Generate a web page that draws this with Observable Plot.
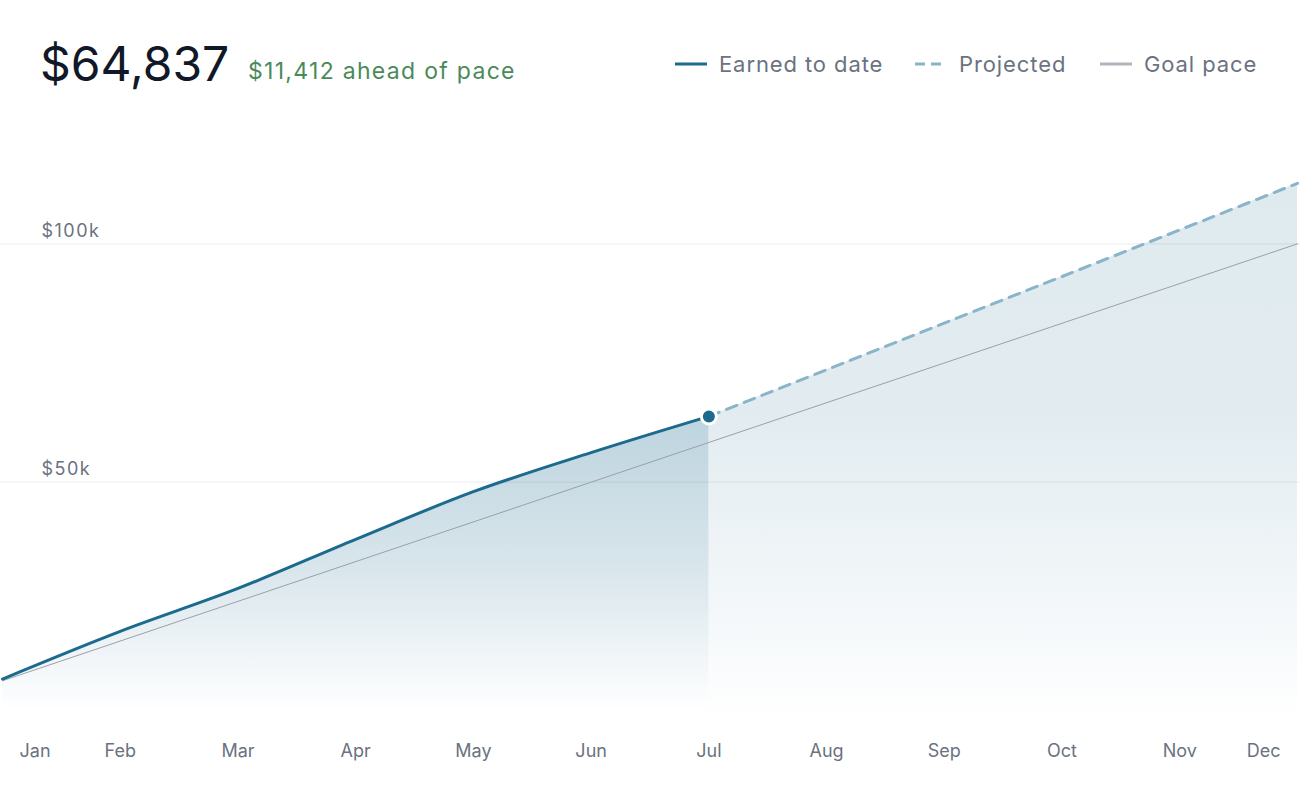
<!DOCTYPE html>
<html>
<head>
<meta charset="utf-8">
<script src="https://cdn.jsdelivr.net/npm/d3@7"></script>
<script src="https://cdn.jsdelivr.net/npm/@observablehq/plot@0.6"></script>
<style>
  html, body { margin: 0; padding: 0; background: #fff; }
  body { width: 1300px; height: 786px; overflow: hidden; font-family: Inter, "Noto Sans", sans-serif; }
  #header { position: relative; height: 110px; }
  .abs { position: absolute; line-height: 1; white-space: nowrap; }
  #total { left: 40px; top: 40px; font-size: 48px; color: #111827; font-weight: 400; letter-spacing: 0px; }
  #ahead { left: 248px; top: 60px; font-size: 23px; color: #4a8a5a; letter-spacing: 1.3px; }
  .leg { top: 53px; font-size: 22px; color: #6b7280; display: flex; align-items: center; letter-spacing: 0.9px; }
  .sw { display: inline-block; width: 32px; margin-right: 12px; }
  #chart svg { display: block; }
</style>
</head>
<body>
<div id="header">
  <div id="total" class="abs"></div>
  <div id="ahead" class="abs"></div>
  <div id="legend"></div>
</div>
<div id="chart"></div>
<script>
// ---- data ----
const months = ["Jan","Feb","Mar","Apr","May","Jun","Jul","Aug","Sep","Oct","Nov","Dec"];
const earnedMonths = ["Jan","Feb","Mar","Apr","May","Jun","Jul"];
const earnedValues = [8700, 18700, 27700, 38000, 48000, 56200, 63800];
const projectedMonths = ["Jul","Dec"];
const projectedValues = [63800, 112700];
const goalMonths = ["Jan","Dec"];
const goalValues = [8333, 100000];
const yTicks = [50000, 100000];
const yTickLabels = ["$50k", "$100k"];
const headlineTotal = "$64,837";
const headlineAhead = "$11,412 ahead of pace";
const legendItems = ["Earned to date", "Projected", "Goal pace"];

// ---- colours ----
const cEarned = "#1c6a8e";
const cProj = "#8ab4c9";
const cGoal = "#9aa0a8";

document.getElementById("total").textContent = headlineTotal;
document.getElementById("ahead").textContent = headlineAhead;

// legend
const legend = document.getElementById("legend");
const legStyles = [
  {left: 675, stroke: cEarned, dash: null},
  {left: 915, stroke: cProj, dash: "10 6"},
  {left: 1100, stroke: "#b0b4bc", dash: null}
];
legendItems.forEach((name, i) => {
  const d = document.createElement("div");
  d.className = "abs leg";
  d.style.left = legStyles[i].left + "px";
  const s = legStyles[i];
  d.innerHTML = `<svg class="sw" width="32" height="6" viewBox="0 0 32 6"><line x1="0" x2="32" y1="3" y2="3" stroke="${s.stroke}" stroke-width="3" ${s.dash ? `stroke-dasharray="${s.dash}"` : ""}/></svg><span></span>`;
  d.querySelector("span").textContent = name;
  legend.appendChild(d);
});

const idx = m => months.indexOf(m);
const earned = earnedMonths.map((m, i) => ({x: idx(m), y: earnedValues[i]}));
const projected = projectedMonths.map((m, i) => ({x: idx(m), y: projectedValues[i]}));
const goal = goalMonths.map((m, i) => ({x: idx(m), y: goalValues[i]}));
const monthData = months.map((m, i) => ({x: i, label: m}));

const NS = "http://www.w3.org/2000/svg";
function defsMark() {
  const defs = document.createElementNS(NS, "defs");
  const mk = (id, stops) => {
    const g = document.createElementNS(NS, "linearGradient");
    g.setAttribute("id", id);
    g.setAttribute("x1", "0"); g.setAttribute("x2", "0");
    g.setAttribute("y1", "0"); g.setAttribute("y2", "1");
    stops.forEach(([o, op]) => {
      const s = document.createElementNS(NS, "stop");
      s.setAttribute("offset", o);
      s.setAttribute("stop-color", cEarned);
      s.setAttribute("stop-opacity", op);
      g.appendChild(s);
    });
    defs.appendChild(g);
  };
  mk("gEarned", [[0, 0.29], [0.5, 0.17], [0.97, 0.0]]);
  mk("gProj", [[0, 0.14], [0.42, 0.13], [0.8, 0.05], [1, 0.0]]);
  return defs;
}

const plot = Plot.plot({
  width: 1300,
  height: 676,
  marginLeft: 2,
  marginRight: 3,
  marginTop: 38,
  marginBottom: 66,
  x: {type: "linear", domain: [0, 11], axis: null},
  y: {domain: [0, 120000], axis: null},
  style: {fontFamily: "Inter, sans-serif", background: "transparent"},
  marks: [
    defsMark,
    Plot.areaY(projected, {x: "x", y: "y", fill: "url(#gProj)"}),
    Plot.areaY(earned, {x: "x", y: "y", curve: "monotone-x", fill: "url(#gEarned)"}),
    Plot.ruleY(yTicks, {stroke: "#000", strokeOpacity: 0.06, strokeWidth: 1.2, x1: -0.02, x2: 11.05}),
    Plot.text(yTicks, {y: d => d, text: (d, i) => yTickLabels[i], frameAnchor: "left", textAnchor: "start", lineAnchor: "bottom", dx: 39, dy: -7, fontSize: 18, fill: "#6b7280"}),
    Plot.line(goal, {x: "x", y: "y", stroke: cGoal, strokeWidth: 1}),
    Plot.line(projected, {x: "x", y: "y", stroke: cProj, strokeWidth: 3, strokeDasharray: "11 8"}),
    Plot.line(earned, {x: "x", y: "y", curve: "monotone-x", stroke: cEarned, strokeWidth: 3}),
    Plot.dot(earned.slice(-1), {x: "x", y: "y", r: 7.5, fill: cEarned, stroke: "white", strokeWidth: 3}),
    Plot.text(monthData.slice(0, 1), {x: "x", text: "label", frameAnchor: "bottom", lineAnchor: "bottom", textAnchor: "start", dx: 17, dy: 36, fontSize: 18, fill: "#6b7280"}),
    Plot.text(monthData.slice(1, 11), {x: "x", text: "label", frameAnchor: "bottom", lineAnchor: "bottom", dy: 36, fontSize: 18, fill: "#6b7280"}),
    Plot.text(monthData.slice(11), {x: "x", text: "label", frameAnchor: "bottom", lineAnchor: "bottom", textAnchor: "end", dx: -17, dy: 36, fontSize: 18, fill: "#6b7280"})
  ]
});
// slightly wider tracking on the y-axis labels, as in the reference
plot.querySelectorAll("text").forEach(t => {
  if (yTickLabels.includes(t.textContent)) t.setAttribute("letter-spacing", "1.5");
});
document.getElementById("chart").appendChild(plot);
</script>
</body>
</html>
